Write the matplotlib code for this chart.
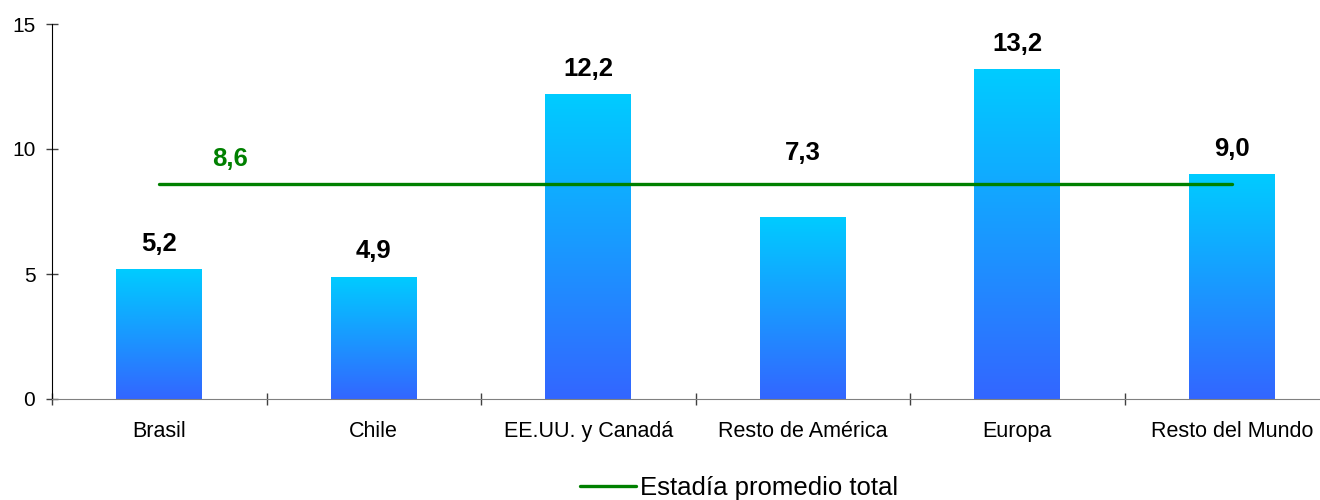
import matplotlib
matplotlib.use("Agg")
import matplotlib.pyplot as plt
import numpy as np
from matplotlib.colors import LinearSegmentedColormap

categories = ["Brasil", "Chile", "EE.UU. y Canadá", "Resto de América", "Europa", "Resto del Mundo"]
values = [5.2, 4.9, 12.2, 7.3, 13.2, 9.0]
value_labels = ["5,2", "4,9", "12,2", "7,3", "13,2", "9,0"]
avg_total = 8.6
avg_label = "8,6"
legend_label = "Estadía promedio total"
yticks = [0, 5, 10, 15]

plt.rcParams['font.family'] = ['Liberation Sans', 'DejaVu Sans']

fig = plt.figure(figsize=(13.2, 5.0), dpi=100)
ax = fig.add_axes([52/1320, 1 - 399/500, 1287/1320, 375/500])

x = np.arange(len(categories))
bars = ax.bar(x, values, width=0.4, color='none', edgecolor='none', zorder=2)

cmap = LinearSegmentedColormap.from_list("g", ["#3366ff", "#00ccff"])
grad = np.linspace(0, 1, 256).reshape(-1, 1)
for b in bars:
    x0, y0 = b.get_x(), b.get_y()
    w, h = b.get_width(), b.get_height()
    im = ax.imshow(grad, cmap=cmap, origin='lower', aspect='auto',
                   extent=[x0, x0 + w, y0, y0 + h], zorder=2, interpolation='bilinear')
    im.set_clip_path(b)

ax.set_xlim(-0.5, len(categories) - 0.5)
ax.set_ylim(0, 15)

# average line
ax.plot([x[0], x[-1]], [avg_total, avg_total], color='#008000', lw=2.4, zorder=3,
        solid_capstyle='round', label=legend_label)

# value labels
for i, (v, lab) in enumerate(zip(values, value_labels)):
    off = 41 if i == 3 else 13
    ax.annotate(lab, (x[i], v), xytext=(0, off), textcoords='offset points',
                ha='center', va='baseline', fontsize=18.5, fontweight='bold', color='black')
ax.annotate(avg_label, (x[0], avg_total), xytext=(51, 13), textcoords='offset points',
            ha='center', va='baseline', fontsize=18.5, fontweight='bold', color='#008000')

# axes styling
for s in ['top', 'right']:
    ax.spines[s].set_visible(False)
ax.spines['left'].set_color('black')
ax.spines['bottom'].set_color('#808080')
ax.spines['left'].set_zorder(4)
ax.spines['bottom'].set_zorder(4)

ax.set_yticks(yticks)
ax.set_yticklabels([str(t) for t in yticks], fontsize=15)
ax.tick_params(axis='y', direction='inout', length=8, width=1, color='#404040', pad=8)

ax.set_xticks(np.arange(-0.5, len(categories) + 0.5, 1.0))
ax.set_xticklabels([])
ax.tick_params(axis='x', which='major', direction='inout', length=9, width=1, color='#404040')
ax.set_xticks(x, minor=True)
ax.set_xticklabels(categories, minor=True, fontsize=15.5)
ax.tick_params(axis='x', which='minor', length=0, pad=16)

fig.legend(loc='center', bbox_to_anchor=(0.56, 0.024), frameon=False, fontsize=18.5,
           handlelength=2.2, handletextpad=0.15, borderpad=0)

fig.savefig("out.png", dpi=100)
